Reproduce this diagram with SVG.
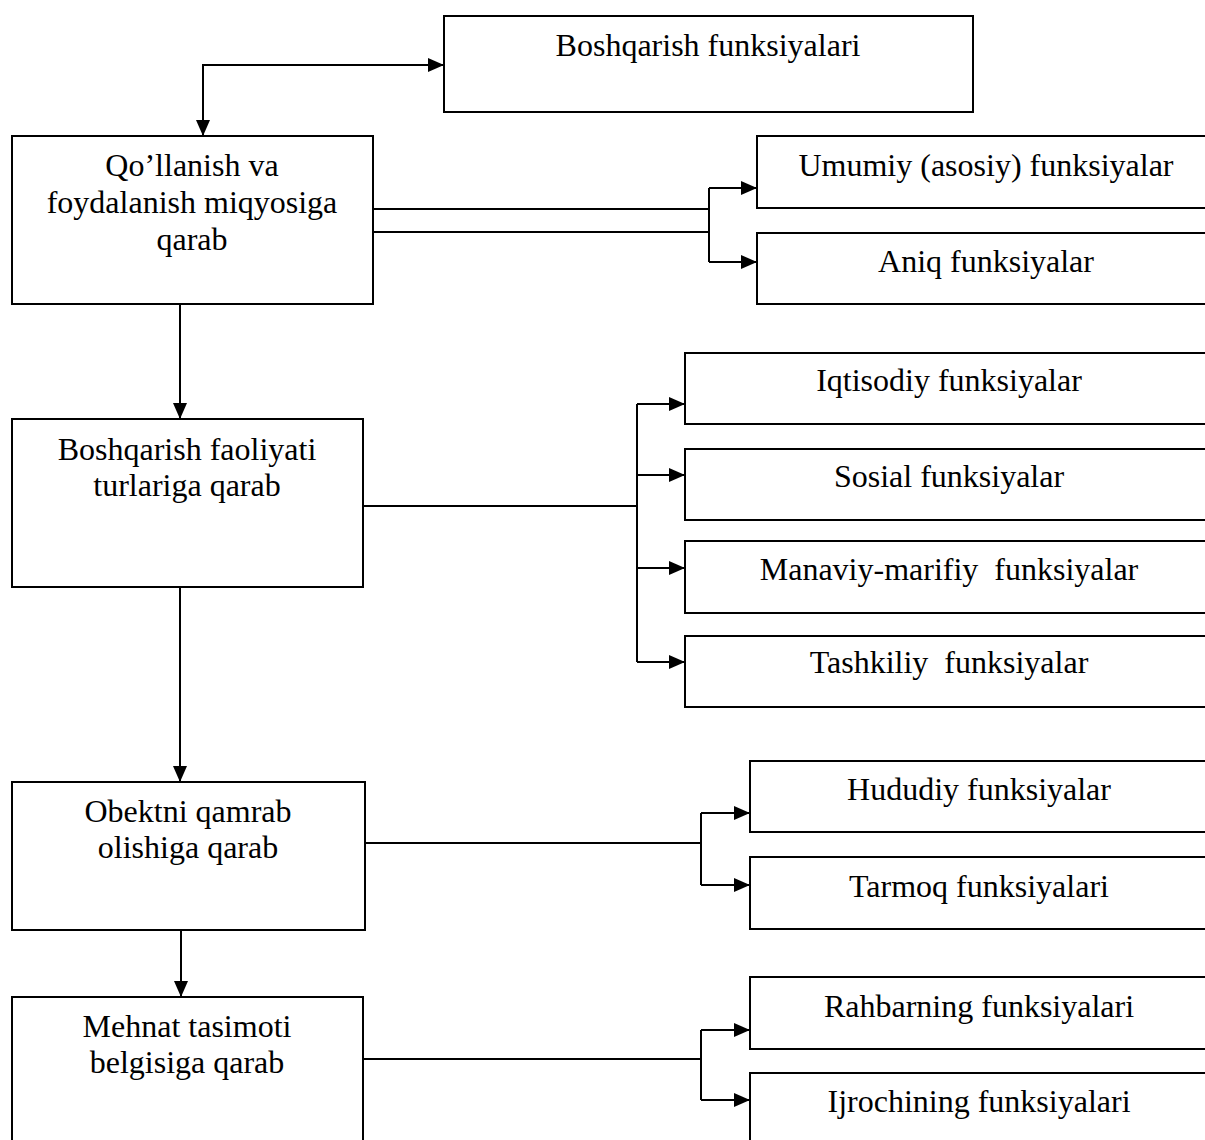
<svg xmlns="http://www.w3.org/2000/svg" width="1205" height="1140" viewBox="0 0 1205 1140">
  <style>
    .box { fill: #ffffff; stroke: #000000; stroke-width: 2; }
    .wire { fill: none; stroke: #000000; stroke-width: 2; }
    .arrow { marker-end: url(#head); }
    text { font-family: "Liberation Serif", "Times New Roman", serif; font-size: 32px; fill: #000000; text-anchor: middle; white-space: pre; }
  </style>
  <defs>
    <marker id="head" markerUnits="userSpaceOnUse" markerWidth="18" markerHeight="16" refX="16" refY="7" orient="auto-start-reverse">
      <path d="M0,0 L16,7 L0,14 z" fill="#000000"/>
    </marker>
  </defs>
  <rect width="1205" height="1140" fill="#ffffff"/>

  <!-- root node -->
  <g id="root">
    <rect class="box" x="444" y="16" width="529" height="96"/>
    <text x="708" y="56">Boshqarish funksiyalari</text>
  </g>

  <!-- left column: classification criteria -->
  <g id="scale">
    <rect class="box" x="12" y="136" width="361" height="168"/>
    <text x="192" y="176">Qo’llanish va</text>
    <text x="192" y="213">foydalanish miqyosiga</text>
    <text x="192" y="250">qarab</text>
  </g>
  <g id="activity">
    <rect class="box" x="12" y="419" width="351" height="168"/>
    <text x="187" y="460">Boshqarish faoliyati</text>
    <text x="187" y="496">turlariga qarab</text>
  </g>
  <g id="coverage">
    <rect class="box" x="12" y="782" width="353" height="148"/>
    <text x="188" y="822">Obektni qamrab</text>
    <text x="188" y="858">olishiga qarab</text>
  </g>
  <g id="labour">
    <rect class="box" x="12" y="997" width="351" height="160"/>
    <text x="187" y="1037">Mehnat tasimoti</text>
    <text x="187" y="1073">belgisiga qarab</text>
  </g>

  <!-- right column: function kinds -->
  <g id="general">
    <rect class="box" x="757" y="136" width="470" height="72"/>
    <text x="986" y="176">Umumiy (asosiy) funksiyalar</text>
  </g>
  <g id="specific">
    <rect class="box" x="757" y="233" width="470" height="71"/>
    <text x="986" y="272">Aniq funksiyalar</text>
  </g>
  <g id="economic">
    <rect class="box" x="685" y="353" width="540" height="71"/>
    <text x="949" y="391">Iqtisodiy funksiyalar</text>
  </g>
  <g id="social">
    <rect class="box" x="685" y="449" width="540" height="71"/>
    <text x="949" y="487">Sosial funksiyalar</text>
  </g>
  <g id="spiritual">
    <rect class="box" x="685" y="541" width="540" height="72"/>
    <text x="949" y="580">Manaviy-marifiy  funksiyalar</text>
  </g>
  <g id="organisational">
    <rect class="box" x="685" y="636" width="540" height="71"/>
    <text x="949" y="673">Tashkiliy  funksiyalar</text>
  </g>
  <g id="territorial">
    <rect class="box" x="750" y="761" width="470" height="71"/>
    <text x="979" y="800">Hududiy funksiyalar</text>
  </g>
  <g id="sectoral">
    <rect class="box" x="750" y="857" width="470" height="72"/>
    <text x="979" y="897">Tarmoq funksiyalari</text>
  </g>
  <g id="manager">
    <rect class="box" x="750" y="977" width="470" height="72"/>
    <text x="979" y="1017">Rahbarning funksiyalari</text>
  </g>
  <g id="executor">
    <rect class="box" x="750" y="1073" width="470" height="80"/>
    <text x="979" y="1112">Ijrochining funksiyalari</text>
  </g>

  <!-- connectors -->
  <g id="connectors">
    <path class="wire" d="M203,136 V65 H444" marker-start="url(#head)" marker-end="url(#head)"/>
    <path class="wire arrow" d="M180,304 V419"/>
    <path class="wire arrow" d="M180,587 V782"/>
    <path class="wire arrow" d="M181,930 V997"/>

    <path class="wire" d="M373,209 H709 M373,232 H709 M709,188 V262"/>
    <path class="wire arrow" d="M709,188 H757"/>
    <path class="wire arrow" d="M709,262 H757"/>

    <path class="wire" d="M363,506 H637 M637,404 V662"/>
    <path class="wire arrow" d="M637,404 H685"/>
    <path class="wire arrow" d="M637,475 H685"/>
    <path class="wire arrow" d="M637,568 H685"/>
    <path class="wire arrow" d="M637,662 H685"/>

    <path class="wire" d="M365,843 H701 M701,813 V885"/>
    <path class="wire arrow" d="M701,813 H750"/>
    <path class="wire arrow" d="M701,885 H750"/>

    <path class="wire" d="M363,1059 H701 M701,1030 V1100"/>
    <path class="wire arrow" d="M701,1030 H750"/>
    <path class="wire arrow" d="M701,1100 H750"/>
  </g>
</svg>
